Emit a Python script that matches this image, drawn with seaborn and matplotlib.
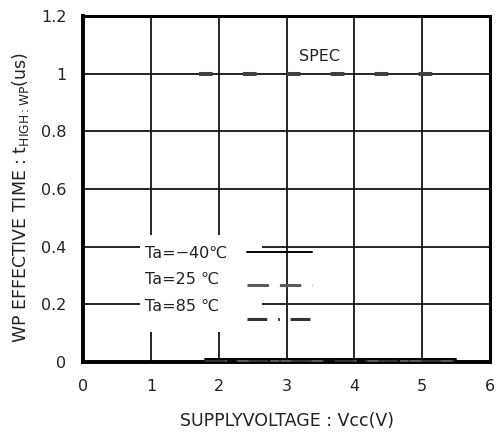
import numpy as np
import pandas as pd
import matplotlib
matplotlib.use("Agg")
import matplotlib.pyplot as plt
import seaborn as sns
from matplotlib.lines import Line2D
from matplotlib.patches import Rectangle

# datos (tiempo efectivo WP vs tension de alimentacion)
vcc = [1.8, 2.5, 3.0, 3.3, 4.0, 4.5, 5.0, 5.5]
t_m40 = [0.009, 0.009, 0.009, 0.009, 0.009, 0.009, 0.009, 0.009]
t_25 = [0.008, 0.008, 0.008, 0.008, 0.008, 0.008, 0.008, 0.008]
t_85 = [0.007, 0.007, 0.007, 0.007, 0.007, 0.007, 0.007, 0.007]
spec_vcc = [1.71, 5.16]
spec_t = [1.0, 1.0]
series_names = ["Ta=\u221240\u2103", "Ta=25 \u2103", "Ta=85 \u2103"]
x_ticks = [0, 1, 2, 3, 4, 5, 6]
y_ticks = [0, 0.2, 0.4, 0.6, 0.8, 1.0, 1.2]
y_labels = ["0", "0.2", "0.4", "0.6", "0.8", "1", "1.2"]

sns.set_theme(style="white")
plt.rcParams['font.family'] = ['DejaVu Sans', 'Noto Sans CJK JP']

FS = 11.5
TXT = '#222222'

df = pd.DataFrame({
    'vcc': vcc * 3,
    't': t_m40 + t_25 + t_85,
    'serie': np.repeat(series_names, len(vcc)),
})

fig = plt.figure(figsize=(5.01, 4.32), dpi=100)
ax = fig.add_axes([0.166, 0.162, 0.812, 0.801])

estilos = {
    series_names[0]: dict(color='black', lw=1.4, ls='-'),
    series_names[1]: dict(color='#5a5a5a', lw=2.2, ls=(0, (7, 3.6))),
    series_names[2]: dict(color='#333333', lw=2.2, ls=(0, (6.5, 3.5, 0.6, 3.5))),
}

# primero las discontinuas, la continua encima
for nombre in [series_names[1], series_names[2], series_names[0]]:
    sub = df[df['serie'] == nombre]
    st = estilos[nombre]
    sns.lineplot(x='vcc', y='t', data=sub, ax=ax, color=st['color'],
                 linewidth=st['lw'], linestyle=st['ls'], legend=False, zorder=3)

# linea SPEC
spec_line, = ax.plot(spec_vcc, spec_t, color='#404040', lw=2.9,
                     solid_capstyle='butt', dash_capstyle='butt', zorder=3)
spec_line.set_dashes((3.4, 7.5))
ax.text(3.19, 1.058, "SPEC", fontsize=FS, va='center', ha='left', color=TXT)

ax.set_xlim(0, 6)
ax.set_ylim(0, 1.2)
ax.set_xticks(x_ticks)
ax.set_yticks(y_ticks)
ax.set_yticklabels(y_labels)
ax.tick_params(axis='both', length=0, labelsize=FS, colors=TXT)
ax.tick_params(axis='x', pad=12)
ax.tick_params(axis='y', pad=12)

ax.set_axisbelow(True)
ax.grid(True, color='black', lw=1.2)

for lado in ['left', 'bottom']:
    ax.spines[lado].set_linewidth(2.8)
    ax.spines[lado].set_color('black')
for lado in ['top', 'right']:
    ax.spines[lado].set_linewidth(2.2)
    ax.spines[lado].set_color('black')

# hueco blanco detras de la leyenda
ax.add_patch(Rectangle((0.84, 0.104), 1.8, 0.336, facecolor='white',
                       edgecolor='none', zorder=1))

# leyenda: textos a la izquierda, muestras de linea a la derecha
ley_kw = dict(loc='upper left', frameon=False, borderpad=0, fontsize=FS)
vacios = [Line2D([0], [0], color='none') for _ in series_names]
ley_txt = ax.legend(vacios, series_names, handlelength=0, handletextpad=0,
                    labelcolor=TXT, labelspacing=0.73,
                    bbox_to_anchor=(0.133, 0.36), **ley_kw)
ax.add_artist(ley_txt)

handles = [Line2D([0], [0], color=estilos[n]['color'], lw=estilos[n]['lw'],
                  ls=estilos[n]['ls']) for n in series_names]
ax.legend(handles, ["", "", ""], handlelength=4.1, handletextpad=0,
          labelspacing=1.15, bbox_to_anchor=(0.383, 0.36), **ley_kw)

ax.set_xlabel("SUPPLYVOLTAGE : Vcc(V)", fontsize=12.5, color=TXT, labelpad=13)
ax.set_ylabel(r"WP EFFECTIVE TIME : t$_{\mathrm{HIGH : WP}}$(us)", fontsize=12.5,
              color=TXT)
ax.yaxis.set_label_coords(-0.128, 0.477)

fig.savefig("out.png", dpi=100, facecolor='white')
